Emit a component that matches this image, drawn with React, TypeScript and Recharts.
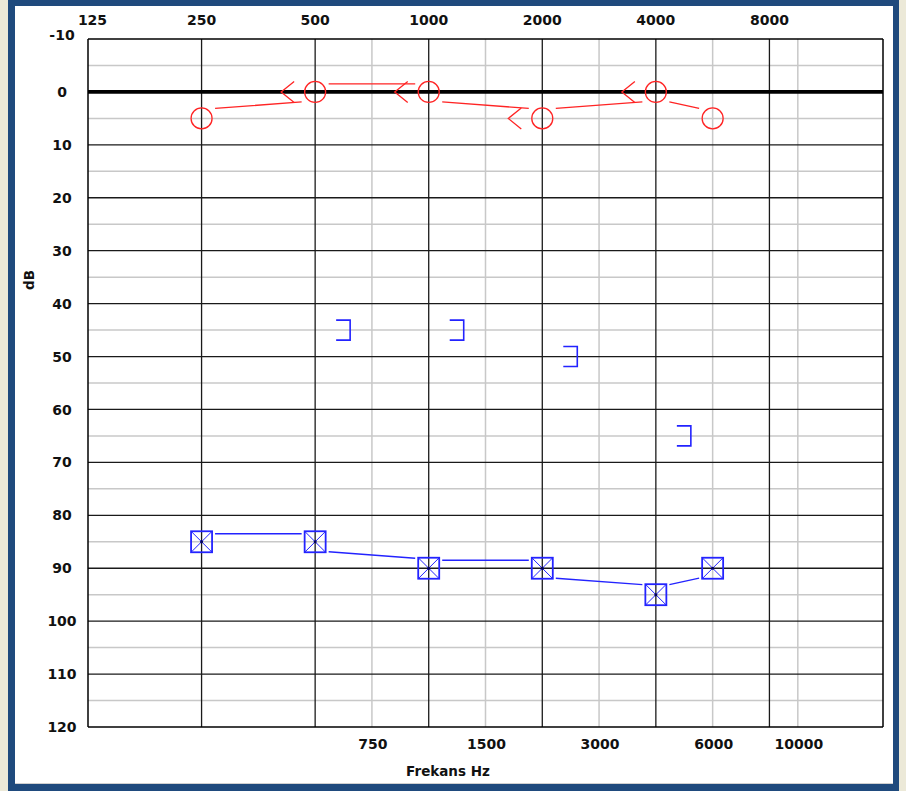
import React from 'react';
import { ComposedChart, Line, Scatter, XAxis, YAxis, ReferenceLine } from 'recharts';

// Frequency -> position on audiogram axis (octave index, half-octaves at midpoints)
const freqPositions: Record<number, number> = {
  125: 0, 250: 1, 500: 2, 750: 2.5, 1000: 3, 1500: 3.5, 2000: 4,
  3000: 4.5, 4000: 5, 6000: 5.5, 8000: 6, 10000: 6.25, 16000: 7,
};

const topTickFreqs = [125, 250, 500, 1000, 2000, 4000, 8000];
const bottomTickFreqs = [750, 1500, 3000, 6000, 10000];
const dbTicks = [-10, 0, 10, 20, 30, 40, 50, 60, 70, 80, 90, 100, 110, 120];
const dbMinorGrid = [-5, 5, 15, 25, 35, 45, 55, 65, 75, 85, 95, 105, 115];
const dbMajorGrid = [10, 20, 30, 40, 50, 60, 70, 80, 90, 100, 110];
const octaveGridFreqs = [250, 500, 1000, 2000, 4000, 8000];
const halfOctaveGridFreqs = [750, 1500, 3000, 6000, 10000];

// Right ear, air conduction (circles)
const rightAirFreqs = [250, 500, 1000, 2000, 4000, 6000];
const rightAirDb = [5, 0, 0, 5, 0, 5];
// Left ear, air conduction masked (boxed X)
const leftAirFreqs = [250, 500, 1000, 2000, 4000, 6000];
const leftAirDb = [85, 85, 90, 90, 95, 90];
// Right ear, bone conduction (<)
const rightBoneFreqs = [500, 1000, 2000, 4000];
const rightBoneDb = [0, 0, 5, 0];
// Left ear, bone conduction masked (])
const leftBoneFreqs = [500, 1000, 2000, 4000];
const leftBoneDb = [45, 45, 50, 65];

const toData = (freqs: number[], dbs: number[]) =>
  freqs.map((f, i) => ({ freq: f, pos: freqPositions[f], db: dbs[i] }));

const rightAir = toData(rightAirFreqs, rightAirDb);
const leftAir = toData(leftAirFreqs, leftAirDb);
const rightBone = toData(rightBoneFreqs, rightBoneDb);
const leftBone = toData(leftBoneFreqs, leftBoneDb);

const RED = '#ff2424';
const BLUE = '#2323ff';
const FONT = '"DejaVu Sans", Verdana, sans-serif';

// custom d3 curve: separate segments between symbol edges
const segmentCurve = (dx: number, flat: number, slope: number) => (context: any) => {
  let prev: [number, number] | null = null;
  return {
    areaStart() {},
    areaEnd() {},
    lineStart() { prev = null; },
    lineEnd() {},
    point(x: number, y: number) {
      x = +x; y = +y;
      if (prev) {
        const [px, py] = prev;
        let s0: number, s1: number;
        if (Math.abs(y - py) < 0.5) { s0 = -flat; s1 = -flat; }
        else if (y > py) { s0 = slope; s1 = -slope; }
        else { s0 = -slope; s1 = slope; }
        context.moveTo(px + dx, py + s0);
        context.lineTo(x - dx, y + s1);
      }
      prev = [x, y];
    },
  };
};
const curve = segmentCurve(13.5, 8, 10);

const CircleDot = (p: any) => (
  <circle key={`c${p.index}`} cx={p.cx} cy={p.cy} r={10.5} fill="none" stroke={RED} strokeWidth={1.3} />
);
const BoxXDot = (p: any) => {
  const s = 10.5;
  const { cx, cy } = p;
  return (
    <g key={`b${p.index}`} stroke={BLUE} strokeWidth={1.4} fill="none">
      <rect x={cx - s} y={cy - s} width={2 * s} height={2 * s} strokeWidth={1.8} />
      <line x1={cx - s} y1={cy - s} x2={cx + s} y2={cy + s} strokeWidth={1} />
      <line x1={cx + s} y1={cy - s} x2={cx - s} y2={cy + s} strokeWidth={1} />
      <circle cx={cx} cy={cy} r={1.5} fill="#000060" stroke="none" />
    </g>
  );
};
const LessThanShape = (p: any) => {
  const { cx, cy } = p;
  return (
    <path d={`M${cx - 21},${cy - 10.5} L${cx - 34},${cy} L${cx - 21},${cy + 10.5}`} fill="none" stroke={RED} strokeWidth={1.3} />
  );
};
const BracketShape = (p: any) => {
  const { cx, cy } = p;
  return (
    <path d={`M${cx + 21},${cy - 10} L${cx + 35},${cy - 10} L${cx + 35},${cy + 10} L${cx + 21},${cy + 10}`} fill="none" stroke={BLUE} strokeWidth={1.6} />
  );
};

const labelFor = (pos: number) => {
  const f = Object.keys(freqPositions).find((k) => freqPositions[+k] === pos);
  return f ?? '';
};

const TICK_SIZE = 14;

const TopTick = (p: any) => {
  const txt = labelFor(p.payload.value);
  const dx = p.payload.value === 0 ? 4.5 : 0;
  return (
    <text x={p.x + dx} y={20} dy="0.36em" textAnchor="middle" fontFamily={FONT} fontWeight="bold" fontSize={TICK_SIZE} fill="#111">
      {txt}
    </text>
  );
};
const BottomTick = (p: any) => {
  const txt = labelFor(p.payload.value);
  return (
    <text x={p.x + 1} y={744} dy="0.36em" textAnchor="middle" fontFamily={FONT} fontWeight="bold" fontSize={TICK_SIZE} fill="#111">
      {txt}
    </text>
  );
};
const LeftTick = (p: any) => {
  const v = p.payload.value;
  const shift = v === -10 ? -4.5 : 0;
  return (
    <text x={62} y={p.y + shift} dy="0.36em" textAnchor="middle" fontFamily={FONT} fontWeight="bold" fontSize={TICK_SIZE} fill="#111">
      {v}
    </text>
  );
};

export default function App() {
  return (
    <div style={{ position: 'absolute', left: 0, top: 0, width: 906, height: 791, background: '#ECE9D8', overflow: 'hidden' }}>
      <div style={{ position: 'absolute', left: 8, top: 0, width: 891, height: 791, background: '#1f4a7d' }} />
      <div style={{ position: 'absolute', left: 15, top: 6, width: 878, height: 778, background: '#ffffff', borderBottom: '1px solid #d0d0d0', boxSizing: 'border-box' }} />
      <div style={{ position: 'absolute', left: 0, top: 0 }}>
        <ComposedChart width={906} height={791} margin={{ top: 9, right: 23, bottom: 34, left: 28 }}>
          <XAxis
            xAxisId="top"
            orientation="top"
            type="number"
            dataKey="pos"
            domain={[0, 7]}
            ticks={topTickFreqs.map((f) => freqPositions[f])}
            tick={TopTick}
            tickLine={false}
            axisLine={false}
            height={30}
            allowDataOverflow
          />
          <XAxis
            xAxisId="bottom"
            orientation="bottom"
            type="number"
            dataKey="pos"
            domain={[0, 7]}
            ticks={bottomTickFreqs.map((f) => freqPositions[f])}
            tick={BottomTick}
            tickLine={false}
            axisLine={false}
            height={30}
            allowDataOverflow
            label={{
              content: (lp: any) => {
                const vb = lp.viewBox || { x: 88, y: 727, width: 795 };
                return (
                  <text x={vb.x + vb.width / 2 - 37.5} y={771} dy="0.36em" textAnchor="middle" fontFamily={FONT} fontWeight="bold" fontSize={13.5} fill="#111">
                    Frekans Hz
                  </text>
                );
              },
            }}
          />
          <YAxis
            type="number"
            dataKey="db"
            domain={[-10, 120]}
            reversed
            ticks={dbTicks}
            tick={LeftTick}
            tickLine={false}
            axisLine={false}
            width={60}
            allowDataOverflow
            label={{
              content: () => (
                <text x={29} y={280} dy="0.36em" textAnchor="middle" transform="rotate(-90 29 280)" fontFamily={FONT} fontWeight="bold" fontSize={13.5} fill="#111">
                  dB
                </text>
              ),
            }}
          />

          {dbMinorGrid.map((v) => (
            <ReferenceLine key={`hm${v}`} xAxisId="top" y={v} stroke="#c8c8c8" strokeWidth={1.5} />
          ))}
          {halfOctaveGridFreqs.map((f) => (
            <ReferenceLine key={`vm${f}`} xAxisId="top" x={freqPositions[f]} stroke="#c8c8c8" strokeWidth={1.5} />
          ))}
          {dbMajorGrid.map((v) => (
            <ReferenceLine key={`hM${v}`} xAxisId="top" y={v} stroke="#1a1a1a" strokeWidth={1.3} />
          ))}
          {octaveGridFreqs.map((f) => (
            <ReferenceLine key={`vM${f}`} xAxisId="top" x={freqPositions[f]} stroke="#1a1a1a" strokeWidth={1.3} />
          ))}
          <ReferenceLine xAxisId="top" y={0} stroke="#000" strokeWidth={3.6} />
          <ReferenceLine xAxisId="top" y={-10} stroke="#000" strokeWidth={1.5} />
          <ReferenceLine xAxisId="top" y={120} stroke="#000" strokeWidth={1.5} />
          <ReferenceLine xAxisId="top" x={0} stroke="#000" strokeWidth={1.5} />
          <ReferenceLine xAxisId="top" x={7} stroke="#000" strokeWidth={1.5} />

          <Line
            xAxisId="top"
            data={rightAir}
            dataKey="db"
            type={curve as any}
            stroke={RED}
            strokeWidth={1.3}
            dot={CircleDot}
            activeDot={false}
            isAnimationActive={false}
          />
          <Line
            xAxisId="top"
            data={leftAir}
            dataKey="db"
            type={curve as any}
            stroke={BLUE}
            strokeWidth={1.3}
            dot={BoxXDot}
            activeDot={false}
            isAnimationActive={false}
          />
          <Scatter xAxisId="top" data={rightBone} dataKey="db" shape={LessThanShape} isAnimationActive={false} />
          <Scatter xAxisId="top" data={leftBone} dataKey="db" shape={BracketShape} isAnimationActive={false} />
        </ComposedChart>
      </div>
    </div>
  );
}
